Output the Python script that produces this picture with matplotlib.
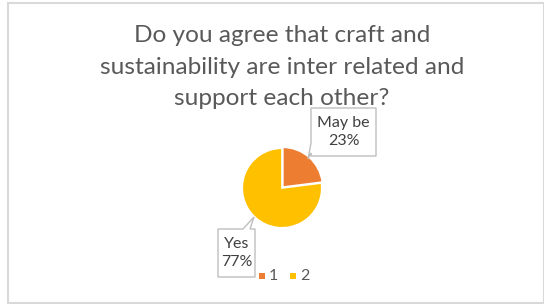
import matplotlib
matplotlib.use('Agg')
import matplotlib.pyplot as plt
from matplotlib.patches import Polygon, Rectangle

title = 'Do you agree that craft and\nsustainability are inter related and\nsupport each other?'
categories = ['1', '2']
label_names = ['May be', 'Yes']
values = [23, 77]
colors = ['#ED7D31', '#FFC000']

W, H = 544, 304
plt.rcParams['font.family'] = ['Lato', 'DejaVu Sans']

fig = plt.figure(figsize=(W / 100, H / 100), dpi=100)


def px(x, y):
    # pixel position (top-left origin) -> figure fraction
    return x / W, 1 - y / H


# chart frame
fig.patches.append(Rectangle(px(8, 303), (W - 8) / W, 300 / H, transform=fig.transFigure,
                             fill=False, edgecolor='#d9d9d9', linewidth=1.5))

fig.text(*px(282, 67), title, ha='center', va='center', fontsize=17.6,
         color='#595959', linespacing=1.62)

# pie
cx, cy, r = 282, 188, 41
ax = fig.add_axes([(cx - r) / W, 1 - (cy + r) / H, 2 * r / W, 2 * r / H])
wedges, _ = ax.pie(values, colors=colors, startangle=90, counterclock=False,
                   explode=[0.03, 0], radius=0.97,
                   wedgeprops=dict(edgecolor='white', linewidth=1.2))
ax.set_xlim(-1, 1)
ax.set_ylim(-1, 1)
ax.set_aspect('equal')
ax.axis('off')


def callout(box, notch, tip, text):
    x0, y0, x1, y1 = box
    # box outline with a pointer, in pixels
    side, a, b = notch
    if side == 'left':
        pts = [(x0, y0), (x1, y0), (x1, y1), (x0, y1), (x0, b), tip, (x0, a)]
    else:
        pts = [(x0, y0), (a, y0), tip, (b, y0), (x1, y0), (x1, y1), (x0, y1)]
    fig.patches.append(Polygon([px(*p) for p in pts], closed=True, transform=fig.transFigure,
                               facecolor='white', edgecolor='#bfbfbf', linewidth=1.0, zorder=5))
    fig.text(*px((x0 + x1) / 2, (y0 + y1) / 2), text, ha='center', va='center',
             fontsize=11.5, color='#404040', linespacing=1.3, zorder=6)


callout((311, 108, 376, 156), ('left', 143, 153), (308, 159),
        f'{label_names[0]}\n{values[0]}%')
callout((218, 229, 255, 277), ('top', 243, 250), (254, 217),
        f'{label_names[1]}\n{values[1]}%')

# legend
leg_x = [262, 293]
for i, cat in enumerate(categories):
    lx, ly = px(leg_x[i], 276)
    fig.patches.append(Rectangle((lx - 3 / W, ly - 3 / H), 6 / W, 6 / H, transform=fig.transFigure,
                                 facecolor=colors[i], edgecolor='none'))
    fig.text(lx + 7 / W, ly, cat, ha='left', va='center', fontsize=11.5, color='#595959')

fig.savefig('out.png', dpi=100, facecolor='white')
